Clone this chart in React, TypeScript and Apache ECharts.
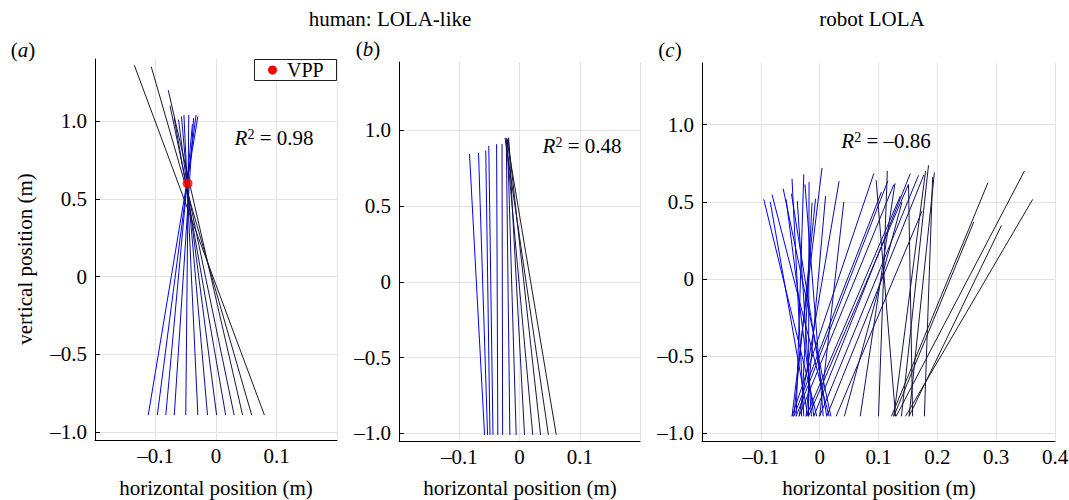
import React, { useEffect, useRef } from "react";
import * as echarts from "echarts";

const FONT = "Liberation Serif";

// tick labels
const X_TICKS_AB = [-0.1, 0, 0.1];
const X_TICKS_C = [-0.1, 0, 0.1, 0.2, 0.3, 0.4];
const Y_TICKS = [-1, -0.5, 0, 0.5, 1];

// titles / labels
const TITLE_HUMAN = "human: LOLA-like";
const TITLE_ROBOT = "robot LOLA";
const X_NAME = "horizontal position (m)";
const Y_NAME = "vertical position (m)";

// panel (a): human, with VPP
const A_BOTTOM_Y = -0.89;
const A_BOTTOM_X = [-0.112, -0.097, -0.083, -0.069, -0.05, -0.03, -0.014, 0.001, 0.016, 0.03, 0.044, 0.059, 0.08];
const A_TOP_X = [-0.03, -0.033, -0.039, -0.037, -0.045, -0.053, -0.057, -0.062, -0.069, -0.076, -0.079, -0.107, -0.135];
const A_TOP_Y = [1.03, 1.04, 0.98, 1.02, 1.04, 1.04, 1.03, 1.01, 1.02, 1.1, 1.2, 1.35, 1.36];
const A_VPP = [-0.047, 0.6];
const A_R2 = "0.98";

// panel (b)
const B_BOTTOM_Y = -1.01;
const B_BOTTOM_X = [-0.058, -0.053, -0.049, -0.044, -0.036, -0.028, -0.016, -0.0055, 0.0083, 0.022, 0.035, 0.048, 0.061];
const B_TOP_X = [-0.083, -0.068, -0.056, -0.051, -0.038, -0.029, -0.022, -0.02, -0.018, -0.022, -0.019, -0.024, -0.021];
const B_TOP_Y = [0.844, 0.851, 0.866, 0.897, 0.908, 0.91, 0.95, 0.94, 0.95, 0.93, 0.95, 0.95, 0.94];
const B_R2 = "0.48";

// panel (c): robot LOLA
const C_BOTTOM_Y = -0.89;
const C_BOTTOM_X = [
  -0.005, 0.016, -0.02, 0.019, -0.01, -0.027, 0.012, -0.014, -0.04, 0.006, -0.019, -0.031, -0.044, -0.047, -0.023, -0.035, 0.0,
  -0.047, -0.044, -0.04, -0.035, -0.023, -0.019, -0.01, 0.0, 0.012, 0.028, 0.042, 0.069,
  0.1, 0.129, 0.158, 0.139, 0.152, 0.178, 0.126, 0.122, 0.126, 0.13, 0.146, 0.152,
];
const C_TOP_X = [
  -0.095, -0.081, -0.084, -0.062, -0.057, -0.047, -0.048, -0.038, -0.027, -0.025, -0.018, -0.013, -0.007, 0.004, 0.01, 0.033, 0.041,
  0.092, 0.105, 0.116, 0.126, 0.137, 0.151, 0.154, 0.168, 0.177, 0.174, 0.14, 0.128,
  0.115, 0.096, 0.151, 0.185, 0.195, 0.192, 0.18, 0.286, 0.262, 0.348, 0.362, 0.309,
];
const C_TOP_Y = [
  0.516, 0.548, 0.5, 0.585, 0.516, 0.65, 0.553, 0.505, 0.678, 0.613, 0.628, 0.494, 0.52, 0.72, 0.537, 0.634, 0.5,
  0.683, 0.564, 0.636, 0.612, 0.538, 0.614, 0.683, 0.672, 0.674, 0.44, 0.5, 0.62,
  0.7, 0.64, 0.61, 0.737, 0.69, 0.66, 0.7, 0.624, 0.37, 0.7, 0.516, 0.347,
];
const C_R2 = "–0.86";

function fmt(v: number): string {
  if (Math.abs(v) < 1e-9) return "0";
  return (v < 0 ? "–" : "") + Math.abs(v).toFixed(1);
}

function shade(i: number, n: number): string {
  const t = n > 1 ? i / (n - 1) : 0;
  const r = Math.round(25 * t);
  const g = Math.round(25 * t);
  const b = Math.round(255 * (1 - t) + 35 * t);
  return `rgb(${r},${g},${b})`;
}

function segs(bx: number[], by: number, tx: number[], ty: number[]) {
  return bx.map((x, i) => ({
    coords: [
      [x, by],
      [tx[i], ty[i]],
    ],
    lineStyle: { color: shade(i, bx.length) },
  }));
}

const GRID_COLOR = "#e3e3e3";

function xAxis(gridIndex: number, min: number, max: number, labels: number[]) {
  return {
    type: "value",
    gridIndex,
    min,
    max,
    interval: 0.1,
    axisLine: { show: true, onZero: false, lineStyle: { color: "#000", width: 1 } },
    axisTick: { show: false },
    axisLabel: {
      customValues: labels,
      formatter: fmt,
      color: "#000",
      fontFamily: FONT,
      fontSize: 21,
      margin: 5,
    },
    splitLine: { show: true, lineStyle: { color: GRID_COLOR, width: 1 } },
  };
}

function yAxis(gridIndex: number, min: number, max: number) {
  return {
    type: "value",
    gridIndex,
    min,
    max,
    axisLine: { show: true, onZero: false, lineStyle: { color: "#000", width: 1 } },
    axisTick: { show: true, inside: true, length: 5, customValues: Y_TICKS, lineStyle: { color: "#000" } },
    axisLabel: {
      customValues: Y_TICKS,
      formatter: fmt,
      color: "#000",
      fontFamily: FONT,
      fontSize: 21,
      margin: 8,
    },
    splitLine: { show: true, lineStyle: { color: GRID_COLOR, width: 1 } },
  };
}

function r2Text(x: number, y: number, val: string) {
  return {
    type: "text",
    x,
    y,
    style: {
      text: `{i|R}{s|2}{n| = ${val}}`,
      align: "center",
      verticalAlign: "middle",
      textAlign: "center",
      textVerticalAlign: "middle",
      fill: "#000",
      rich: {
        i: { fontStyle: "italic", fontSize: 21, fontFamily: FONT, fill: "#000", color: "#000" },
        s: { fontSize: 14, fontFamily: FONT, verticalAlign: "top", fill: "#000", color: "#000" },
        n: { fontSize: 21, fontFamily: FONT, fill: "#000", color: "#000" },
      },
    },
  };
}

function plainText(x: number, y: number, text: string, rotation = 0) {
  return {
    type: "text",
    x,
    y,
    rotation,
    style: {
      text,
      font: `21px ${FONT}`,
      fontSize: 21,
      fontFamily: FONT,
      align: "center",
      verticalAlign: "middle",
      textAlign: "center",
      textVerticalAlign: "middle",
      fill: "#000",
    },
  };
}

function letterText(x: number, y: number, letter: string) {
  return {
    type: "text",
    x,
    y,
    style: {
      text: `{n|(}{i|${letter}}{n|)}`,
      align: "center",
      verticalAlign: "middle",
      textAlign: "center",
      textVerticalAlign: "middle",
      fill: "#000",
      rich: {
        n: { fontSize: 21, fontFamily: FONT, fill: "#000", color: "#000" },
        i: { fontSize: 21, fontFamily: FONT, fontStyle: "italic", fill: "#000", color: "#000" },
      },
    },
  };
}

export default function App() {
  const ref = useRef<HTMLDivElement>(null);

  useEffect(() => {
    if (!ref.current) return;
    const chart = echarts.init(ref.current, undefined, { renderer: "svg" });

    const lineSeries = (idx: number, data: any[]) => ({
      type: "lines",
      coordinateSystem: "cartesian2d",
      xAxisIndex: idx,
      yAxisIndex: idx,
      polyline: false,
      silent: true,
      lineStyle: { width: 1, opacity: 1 },
      data,
      z: 3,
    });

    const option: any = {
      animation: false,
      backgroundColor: "#fff",
      textStyle: { fontFamily: FONT },
      grid: [
        { left: 95, top: 59, width: 242, height: 381, outerBoundsMode: "none", containLabel: false },
        { left: 399, top: 62, width: 241, height: 379, outerBoundsMode: "none", containLabel: false },
        { left: 702, top: 63, width: 353, height: 378, outerBoundsMode: "none", containLabel: false },
      ],
      xAxis: [xAxis(0, -0.2, 0.2, X_TICKS_AB), xAxis(1, -0.2, 0.2, X_TICKS_AB), xAxis(2, -0.2, 0.4, X_TICKS_C)],
      yAxis: [yAxis(0, -1.05, 1.4), yAxis(1, -1.05, 1.45), yAxis(2, -1.05, 1.4)],
      series: [
        lineSeries(0, segs(A_BOTTOM_X, A_BOTTOM_Y, A_TOP_X, A_TOP_Y)),
        lineSeries(1, segs(B_BOTTOM_X, B_BOTTOM_Y, B_TOP_X, B_TOP_Y)),
        lineSeries(2, segs(C_BOTTOM_X, C_BOTTOM_Y, C_TOP_X, C_TOP_Y)),
        {
          type: "scatter",
          name: "VPP",
          xAxisIndex: 0,
          yAxisIndex: 0,
          symbol: "circle",
          symbolSize: 10,
          itemStyle: { color: "#ff0000" },
          data: [A_VPP],
          z: 5,
          silent: true,
        },
      ],
      graphic: [
        plainText(390, 19, TITLE_HUMAN),
        plainText(872, 19, TITLE_ROBOT),
        letterText(23, 50, "a"),
        letterText(368, 49, "b"),
        letterText(670, 50, "c"),
        plainText(216, 488, X_NAME),
        plainText(520, 488, X_NAME),
        plainText(879, 488, X_NAME),
        plainText(25, 259, Y_NAME, Math.PI / 2),
        r2Text(274, 138, A_R2),
        r2Text(582, 146, B_R2),
        r2Text(886, 141, C_R2),
        {
          type: "rect",
          shape: { x: 254.5, y: 59.5, width: 82, height: 21 },
          style: { fill: "#fff", stroke: "#222", lineWidth: 1 },
          z: 10,
        },
        {
          type: "circle",
          shape: { cx: 272.5, cy: 70, r: 4.5 },
          style: { fill: "#ff0000" },
          z: 11,
        },
        {
          type: "text",
          x: 287,
          y: 70,
          z: 11,
          style: {
            text: "VPP",
            font: `20px ${FONT}`,
            fontSize: 20,
            fontFamily: FONT,
            align: "left",
            verticalAlign: "middle",
            textAlign: "left",
            textVerticalAlign: "middle",
            fill: "#000",
          },
        },
      ],
    };

    chart.setOption(option);
    return () => chart.dispose();
  }, []);

  return (
    <div
      ref={ref}
      style={{ position: "fixed", left: 0, top: 0, width: 1069, height: 500, background: "#fff" }}
    />
  );
}
